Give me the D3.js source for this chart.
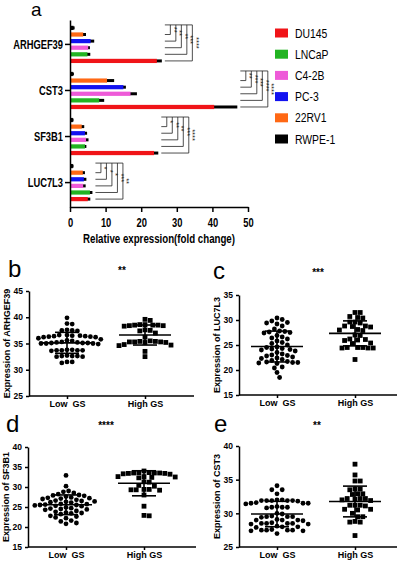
<!DOCTYPE html>
<html>
<head>
<meta charset="utf-8">
<script src="https://cdn.jsdelivr.net/npm/d3@7"></script>
<style>
  body { margin: 0; background: #fff; }
  svg { display: block; }
  .arial { font-family: "Liberation Sans", Arial, sans-serif; }
  .axis path, .axis line { stroke: #000; stroke-width: 1.5; }
</style>
</head>
<body>
<script>
// ---- panel a data (fold change) ----
var genes = ["ARHGEF39", "CST3", "SF3B1", "LUC7L3"];
var cells = ["DU145", "LNCaP", "C4-2B", "PC-3", "22RV1", "RWPE-1"];
var cellColors = ["#f01418", "#22b422", "#ee5ad8", "#1212f0", "#ff6814", "#000000"];

var arhgef39Fold = [24.4, 4.9, 5.1, 5.8, 3.7, 1.0];
var arhgef39Err  = [1.4, 0.8, 0.5, 1.0, 0.8, 0.3];
var cst3Fold     = [40.5, 8.2, 17.0, 15.0, 10.4, 0.8];
var cst3Err      = [6.5, 1.4, 1.8, 0.7, 2.0, 0.3];
var sf3b1Fold    = [23.6, 4.2, 4.5, 4.2, 3.3, 0.8];
var sf3b1Err     = [1.2, 0.4, 0.7, 0.6, 0.7, 0.2];
var luc7l3Fold   = [5.0, 5.6, 3.7, 3.9, 3.6, 0.8];
var luc7l3Err    = [0.7, 0.7, 0.7, 0.7, 0.6, 0.2];

// significance vs RWPE-1, order: 22RV1, PC-3, C4-2B, LNCaP, DU145
var arhgef39Stars = ["**", "**", "**", "***", "****"];
var cst3Stars     = ["**", "***", "***", "****", "****"];
var sf3b1Stars    = ["*", "**", "**", "***", "****"];
var luc7l3Stars   = ["*", "*", "*", "***", "**"];

var xTicksA = [0, 10, 20, 30, 40, 50];

// ---- panels b-e data (expression per sample) ----
var groups = ["Low  GS", "High GS"];

var arhgef39Low = [39.9, 38.8, 38.7, 37.6, 37.5, 37.5, 37.4, 36.6, 36.5, 36.4, 36.3, 36.2, 36.2, 36.3, 36.4,
  36.5, 36.6, 36.0, 35.8, 35.6, 35.5, 35.2, 35.1, 35.0, 35.0, 34.9, 35.0, 35.1, 35.2, 35.3, 35.1,
  33.8, 33.7, 33.7, 33.6, 33.7, 33.8, 33.7, 32.6, 32.5, 32.6, 32.5, 32.7, 32.6, 31.5, 31.3, 31.5];
var arhgef39High = [39.6, 39.4, 38.6, 38.5, 38.4, 38.5, 38.6, 38.5, 38.4, 38.3, 37.6, 37.5, 37.4, 37.0,
  36.2, 35.4, 35.3, 35.2, 35.3, 35.4, 35.2, 35.3, 35.5, 34.8, 34.7, 34.6, 33.5, 32.5];

var luc7l3Low = [30.4, 30.1, 29.8, 29.5, 29.4, 29.2, 28.8, 28.2, 27.8, 27.7, 27.6, 27.5, 27.4, 26.9, 26.6,
  26.4, 26.2, 25.8, 25.5, 25.3, 25.0, 24.6, 24.5, 24.3, 24.2, 24.1, 24.0, 23.8, 23.5, 23.2, 23.0, 22.9,
  22.8, 22.6, 22.4, 22.3, 22.1, 21.9, 21.7, 21.6, 21.5, 21.4, 21.3, 21.5, 20.6, 20.4, 19.5, 18.5];
var luc7l3High = [31.5, 31.5, 30.7, 30.5, 30.4, 29.6, 29.4, 29.6, 28.8, 28.7, 28.6, 28.8, 28.1, 27.9, 28.0,
  27.0, 26.9, 26.2, 26.0, 26.1, 25.9, 25.4, 25.3, 24.5, 24.4, 24.5, 24.4, 24.5, 24.4, 22.1];

var sf3b1Low = [32.9, 30.2, 29.0, 28.8, 28.5, 28.2, 28.0, 27.9, 27.8, 27.6, 27.4, 27.3, 27.2, 27.1, 27.0,
  26.8, 26.6, 26.5, 26.4, 26.3, 26.2, 26.1, 25.8, 25.7, 25.6, 25.5, 25.5, 25.4, 25.3, 25.2, 24.9, 24.7,
  24.6, 24.5, 24.4, 24.3, 24.0, 23.8, 23.6, 23.5, 23.4, 23.2, 22.8, 22.6, 22.4, 22.2, 21.6, 21.4, 21.0, 20.8];
var sf3b1High = [34.0, 33.6, 33.5, 33.5, 33.4, 33.6, 33.5, 33.4, 33.3, 33.2, 32.6, 32.5, 32.3, 32.4, 32.6,
  31.3, 31.2, 30.4, 30.2, 29.4, 29.3, 29.2, 29.3, 29.4, 28.0, 25.2, 22.9, 22.8];

var cst3Low = [34.1, 33.5, 33.5, 32.9, 31.9, 31.9, 32.0, 31.9, 31.8, 31.9, 32.0, 31.9, 31.5, 31.4, 31.5,
  31.6, 31.5, 30.9, 30.8, 30.9, 31.0, 30.9, 30.0, 29.9, 29.5, 29.5, 29.4, 29.5, 29.6, 29.0, 29.0, 28.9,
  29.1, 29.0, 28.5, 28.5, 28.4, 28.5, 28.6, 28.5, 28.4, 28.0, 28.0, 27.9, 28.1, 27.5, 27.4, 27.5, 27.6,
  27.5, 27.4, 27.5, 27.0];
var cst3High = [37.3, 35.7, 34.8, 34.8, 33.6, 33.6, 33.5, 32.9, 32.8, 32.9, 32.2, 32.2, 32.1, 32.2, 32.0,
  31.9, 31.2, 31.2, 31.1, 31.2, 30.6, 30.6, 30.5, 30.0, 29.5, 29.5, 28.7, 28.7, 28.8, 26.7];

var svg = d3.select("body").append("svg")
  .attr("width", 398)
  .attr("height", 562);

// no narrow font installed, so squeeze Liberation Sans horizontally
var squeeze = 0.8;

// ================= panel a =================
var foldByGene = [arhgef39Fold, cst3Fold, sf3b1Fold, luc7l3Fold];
var errByGene = [arhgef39Err, cst3Err, sf3b1Err, luc7l3Err];
var starsByGene = [arhgef39Stars, cst3Stars, sf3b1Stars, luc7l3Stars];

var xA = d3.scaleLinear().domain([0, 50]).range([70, 248]);
var yA = d3.scaleBand().domain(genes).range([20, 207]).paddingOuter(0.03);
// bars inside a group, top to bottom
var barOrder = cells.slice().reverse();
var yIn = d3.scaleBand().domain(barOrder).range([-21, 21]).padding(0.36);

var gA = svg.append("g");

genes.forEach(function(gene, gi) {
  var gy = yA(gene) + yA.bandwidth() / 2;
  var rows = cells.map(function(c, ci) {
    return {cell: c, color: cellColors[ci], v: foldByGene[gi][ci], e: errByGene[gi][ci]};
  });

  // error bars (drawn as thick black extension)
  gA.selectAll(".err" + gi)
    .data(rows)
    .enter()
    .append("line")
    .attr("x1", function(d) { return xA(d.v) - 1; })
    .attr("x2", function(d) { return xA(d.v + d.e); })
    .attr("y1", function(d) { return gy + yIn(d.cell) + yIn.bandwidth() / 2; })
    .attr("y2", function(d) { return gy + yIn(d.cell) + yIn.bandwidth() / 2; })
    .attr("stroke", "#000")
    .attr("stroke-width", 3);

  gA.selectAll(".bar" + gi)
    .data(rows)
    .enter()
    .append("rect")
    .attr("x", xA(0))
    .attr("y", function(d) { return gy + yIn(d.cell); })
    .attr("width", function(d) { return xA(d.v) - xA(0); })
    .attr("height", yIn.bandwidth())
    .attr("fill", function(d) { return d.color; });

  // significance brackets vs RWPE-1
  var maxEnd = d3.max(rows, function(d) { return d.v + d.e; });
  var x0 = xA(maxEnd) + 3;
  var yTop = gy + yIn("RWPE-1") + yIn.bandwidth() / 2 - 3;
  var others = barOrder.slice(1);
  var xLast = x0 + 5.5 * others.length;
  gA.append("line")
    .attr("x1", x0).attr("x2", xLast)
    .attr("y1", yTop).attr("y2", yTop)
    .attr("stroke", "#222").attr("stroke-width", 0.8);
  others.forEach(function(c, j) {
    var xv = x0 + 5.5 * (j + 1);
    var yb = gy + yIn(c) + yIn.bandwidth() / 2;
    gA.append("path")
      .attr("d", "M" + x0 + "," + yb + "H" + xv + "V" + yTop)
      .attr("fill", "none")
      .attr("stroke", "#222")
      .attr("stroke-width", 0.8);
    gA.append("text")
      .attr("transform", "translate(" + (xv + 1.3) + "," + ((yTop + yb) / 2) + ") rotate(90)")
      .attr("text-anchor", "middle")
      .attr("class", "arial")
      .attr("font-size", 7.5)
      .attr("fill", "#111")
      .text(starsByGene[gi][j]);
  });
});

var xAxisA = d3.axisBottom(xA).tickValues(xTicksA).tickSize(5).tickSizeOuter(0);
var yAxisA = d3.axisLeft(yA).tickSize(5).tickSizeOuter(0);

gA.append("g")
  .attr("class", "axis arial")
  .attr("transform", "translate(0,207)")
  .call(xAxisA)
  .selectAll("text")
  .attr("font-size", 13)
  .attr("font-weight", "bold")
  .attr("dy", "0.9em")
  .attr("transform", "scale(0.72,1)");

gA.append("g")
  .attr("class", "axis arial")
  .attr("transform", "translate(70,0)")
  .call(yAxisA)
  .selectAll("text")
  .attr("font-size", 13)
  .attr("font-weight", "bold")
  .attr("x", -7 / 0.72)
  .attr("transform", "scale(0.72,1)");

gA.selectAll(".axis text").attr("fill", "#000");

gA.append("text")
  .attr("class", "arial")
  .attr("x", 83)
  .attr("y", 243)
  .attr("font-size", 13.5)
  .attr("font-weight", "bold")
  .attr("textLength", 152)
  .attr("lengthAdjust", "spacingAndGlyphs")
  .text("Relative expression(fold change)");

gA.append("text")
  .attr("class", "arial")
  .attr("x", 31)
  .attr("y", 16)
  .attr("font-size", 19)
  .text("a");

// legend
var legend = gA.selectAll(".legend")
  .data(cells)
  .enter()
  .append("g")
  .attr("transform", function(d, i) { return "translate(275," + (33 + i * 21.2) + ")"; });

legend.append("rect")
  .attr("x", 0).attr("y", -4.5)
  .attr("width", 13).attr("height", 9)
  .attr("fill", function(d, i) { return cellColors[i]; });

legend.append("text")
  .attr("class", "arial")
  .attr("x", 20 / squeeze)
  .attr("dy", "0.36em")
  .attr("font-size", 13)
  .attr("transform", "scale(" + squeeze + ",1)")
  .text(function(d) { return d; });

// ================= panels b-e =================
function swarm(vals, y, cx, d) {
  var pts = vals.map(function(v) { return {v: v, y: y(v)}; })
    .sort(function(a, b) { return a.y - b.y; });
  var placed = [];
  pts.forEach(function(p) {
    for (var k = 0; k < 80; k++) {
      var off = (k % 2 ? 1 : -1) * Math.ceil(k / 2) * (d / 2);
      var x = cx + off;
      var ok = placed.every(function(q) {
        return (q.x - x) * (q.x - x) + (q.y - p.y) * (q.y - p.y) >= d * d * 0.95;
      });
      if (ok) { p.x = x; break; }
    }
    placed.push(p);
  });
  return placed;
}

function scatterPanel(o) {
  var g = svg.append("g");
  var y = d3.scaleLinear().domain(o.domain).range([o.yBottom, o.yTop]);
  var x = d3.scalePoint().domain(groups).range([o.axisX + 38, o.axisX + 116]);

  [o.low, o.high].forEach(function(vals, gi) {
    var cx = x(groups[gi]);
    var pts = swarm(vals, y, cx, 5.2);
    if (gi === 0) {
      g.selectAll(".pt0")
        .data(pts)
        .enter()
        .append("circle")
        .attr("cx", function(d) { return d.x; })
        .attr("cy", function(d) { return d.y; })
        .attr("r", 2.4)
        .attr("fill", "#000");
    } else {
      g.selectAll(".pt1")
        .data(pts)
        .enter()
        .append("rect")
        .attr("x", function(d) { return d.x - 2.4; })
        .attr("y", function(d) { return d.y - 2.4; })
        .attr("width", 4.8)
        .attr("height", 4.8)
        .attr("fill", "#000");
    }
    var m = d3.mean(vals), sd = d3.deviation(vals);
    var lines = [
      [cx - 26, cx + 26, m, m],
      [cx - 12, cx + 12, m + sd, m + sd],
      [cx - 12, cx + 12, m - sd, m - sd],
      [cx, cx, m - sd, m + sd]
    ];
    g.selectAll(".st" + gi)
      .data(lines)
      .enter()
      .append("line")
      .attr("x1", function(d) { return d[0]; })
      .attr("x2", function(d) { return d[1]; })
      .attr("y1", function(d) { return y(d[2]); })
      .attr("y2", function(d) { return y(d[3]); })
      .attr("stroke", "#000")
      .attr("stroke-width", 1.6);
  });

  var yAxis = d3.axisLeft(y).tickValues(o.ticks).tickSize(3).tickSizeOuter(0);
  g.append("g")
    .attr("class", "axis arial")
    .attr("transform", "translate(" + o.axisX + ",0)")
    .call(yAxis)
    .selectAll("text")
    .attr("font-size", 8.5)
    .attr("font-weight", "bold")
    .attr("fill", "#000");

  var xAxis = d3.axisBottom(x).tickSize(3);
  var xg = g.append("g")
    .attr("class", "axis arial")
    .attr("transform", "translate(0," + o.yBottom + ")")
    .call(xAxis);
  xg.select(".domain").remove();
  xg.append("line")
    .attr("x1", o.axisX).attr("x2", o.xEnd)
    .attr("y1", 0).attr("y2", 0);
  xg.selectAll("text")
    .attr("font-size", 9)
    .attr("font-weight", "bold")
    .attr("fill", "#000")
    .attr("y", 4)
    .attr("dy", "0.8em")
    .style("white-space", "pre");

  g.append("text")
    .attr("class", "arial")
    .attr("transform", "translate(" + (o.axisX - 19) + "," + ((o.yTop + o.yBottom) / 2) + ") rotate(-90)")
    .attr("text-anchor", "middle")
    .attr("font-size", 9)
    .attr("font-weight", "bold")
    .text(o.title);

  g.append("text")
    .attr("class", "arial")
    .attr("x", o.letterX)
    .attr("y", o.letterY)
    .attr("font-size", 24)
    .text(o.letter);

  g.append("text")
    .attr("class", "arial")
    .attr("x", o.starX)
    .attr("y", o.letterY - 3)
    .attr("text-anchor", "middle")
    .attr("font-size", 10)
    .attr("font-weight", "bold")
    .text(o.stars);
}

scatterPanel({low: arhgef39Low, high: arhgef39High, domain: [25, 45], ticks: [25, 30, 35, 40, 45],
  axisX: 29, xEnd: 194, yTop: 291, yBottom: 396, title: "Expression of ARHGEF39",
  letter: "b", letterX: 8, letterY: 277, stars: "**", starX: 122});

scatterPanel({low: luc7l3Low, high: luc7l3High, domain: [15, 35], ticks: [15, 20, 25, 30, 35],
  axisX: 239, xEnd: 397, yTop: 295, yBottom: 395, title: "Expression of LUC7L3",
  letter: "c", letterX: 213, letterY: 279, stars: "***", starX: 318});

scatterPanel({low: sf3b1Low, high: sf3b1High, domain: [15, 40], ticks: [15, 20, 25, 30, 35, 40],
  axisX: 28, xEnd: 196, yTop: 447, yBottom: 547, title: "Expression of SF3B1",
  letter: "d", letterX: 6, letterY: 432, stars: "****", starX: 106});

scatterPanel({low: cst3Low, high: cst3High, domain: [25, 40], ticks: [25, 30, 35, 40],
  axisX: 239, xEnd: 397, yTop: 446, yBottom: 547, title: "Expression of CST3",
  letter: "e", letterX: 214, letterY: 432, stars: "**", starX: 317});
</script>
</body>
</html>
